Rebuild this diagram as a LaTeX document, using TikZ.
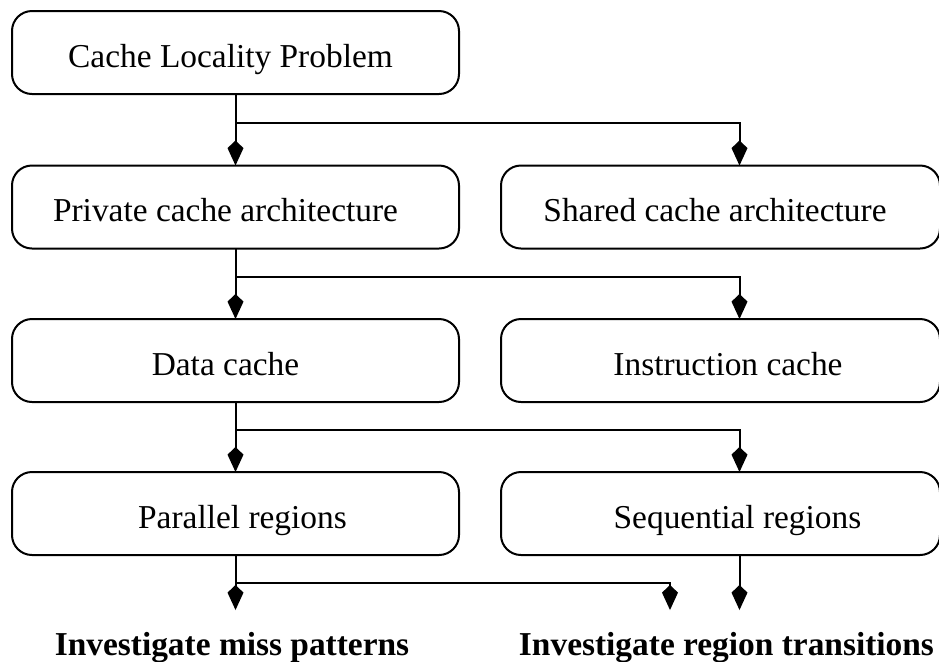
\documentclass[tikz,border=0pt]{standalone}
\usepackage{fontspec}
\setmainfont{Liberation Serif}
\usetikzlibrary{arrows.meta}
\begin{document}
\begin{tikzpicture}[x=0.5pt,y=-0.5pt,
  box/.style={draw, line width=1pt, rounded corners=10pt, inner sep=0pt, outer sep=0pt,
              minimum width=#1, minimum height=41.5pt},
  label/.style={anchor=base, inner sep=0pt, font=\fontsize{16.7pt}{20pt}\selectfont},
  result/.style={anchor=base, inner sep=0pt, font=\fontsize{16.7pt}{20pt}\selectfont\bfseries},
  link/.style={line width=1pt, -{Kite[length=12.5pt,width=8pt,inset=3.8pt]}}]
\useasboundingbox (0,0) rectangle (939,661);

% boxes
\node[box=223.5pt] (b1)  at (235.5,52.5) {};
\node[box=223.5pt] (b2l) at (235.5,207)  {};
\node[box=219.5pt] (b2r) at (720.5,207)  {};
\node[box=223.5pt] (b3l) at (235.5,360.5) {};
\node[box=219.5pt] (b3r) at (720.5,360.5) {};
\node[box=223.5pt] (b4l) at (235.5,513.5) {};
\node[box=219.5pt] (b4r) at (720.5,513.5) {};

% box captions
\node[label] (t1)  at (230.5,67)  {Cache Locality Problem};
\node[label] (t2l) at (225.5,221.5) {Private cache architecture};
\node[label] (t2r) at (715,221.5)   {Shared cache architecture};
\node[label] (t3l) at (225.5,375)   {Data cache};
\node[label] (t3r) at (728,375)     {Instruction cache};
\node[label] (t4l) at (242.5,528)   {Parallel regions};
\node[label] (t4r) at (737.5,528)   {Sequential regions};

% outcomes
\node[result] (oL) at (232,655)   {Investigate miss patterns};
\node[result] (oR) at (726.5,655) {Investigate region transitions};

% helper coordinates
\coordinate (colR) at (739.5,0);
\coordinate (j1) at (0,123);
\coordinate (j2) at (0,277);
\coordinate (j3) at (0,430);
\coordinate (j4) at (0,583);
\coordinate (aL) at (235.5,610);
\coordinate (aM) at (670,610);
\coordinate (aR) at (739.5,610);

% connectors
\draw[link] (b1.south) -- (b2l.north);
\draw[link] (b1.south |- j1) -| (b2r.north -| colR);
\draw[link] (b2l.south) -- (b3l.north);
\draw[link] (b2l.south |- j2) -| (b3r.north -| colR);
\draw[link] (b3l.south) -- (b4l.north);
\draw[link] (b3l.south |- j3) -| (b4r.north -| colR);
\draw[link] (b4l.south) -- (aL);
\draw[link] (b4l.south |- j4) -| (aM);
\draw[link] (b4r.south -| colR) -- (aR);
\end{tikzpicture}
\end{document}
